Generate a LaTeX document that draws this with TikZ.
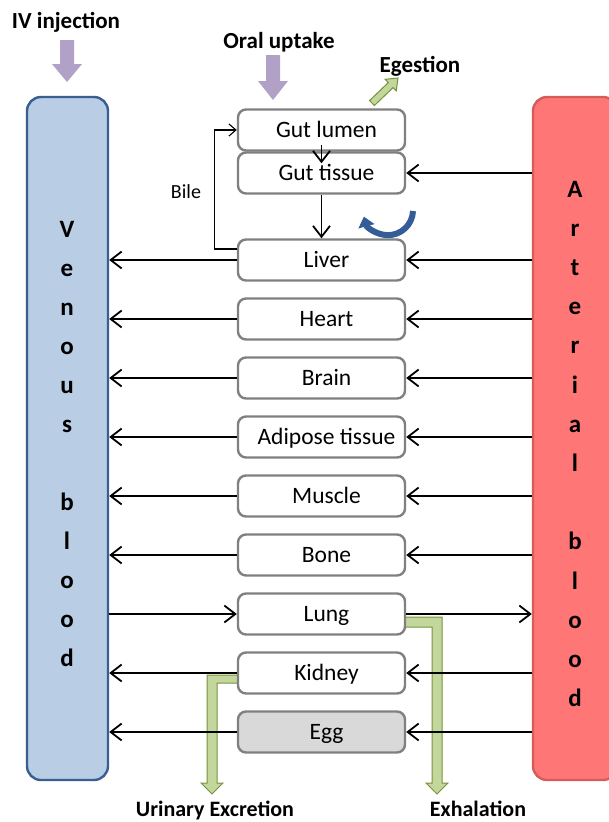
\documentclass[tikz,border=0pt]{standalone}
\usepackage{fontspec}
\setmainfont{Carlito}
\usepackage{xcolor}
\usetikzlibrary{arrows.meta}

\definecolor{venfill}{RGB}{185,205,228}
\definecolor{venline}{RGB}{56,95,144}
\definecolor{artfill}{RGB}{255,118,118}
\definecolor{artline}{RGB}{214,92,92}
\definecolor{organline}{RGB}{128,128,128}
\definecolor{eggfill}{RGB}{217,217,217}
\definecolor{intake}{RGB}{178,161,199}
\definecolor{outfill}{RGB}{195,214,155}
\definecolor{outline}{RGB}{119,147,60}
\definecolor{cycle}{RGB}{52,92,150}

\tikzset{
	organ/.style={draw=organline, line width=2.4pt, rounded corners=8pt, fill=white,
		minimum width=167pt, minimum height=41pt, inner sep=0pt,
		text height=15pt, text depth=0pt, font=\fontsize{23.5}{23.5}\selectfont},
	pool/.style={line width=2.4pt, rounded corners=14pt, inner sep=0pt},
	blood/.style={anchor=base, inner sep=0pt, font=\fontsize{25}{25}\selectfont\bfseries},
	route/.style={anchor=base, inner sep=0pt, font=\fontsize{23}{23}\selectfont\bfseries},
	flow/.style={line width=1.8pt, -{Straight Barb[length=11pt,width=17pt]}},
	bile/.style={line width=1.1pt, -{Straight Barb[length=7pt,width=12pt]}},
	blockout/.style={fill=outfill, draw=outline, line width=1pt, line join=miter},
	blockin/.style={fill=intake, draw=none},
}

\begin{document}
\begin{tikzpicture}[x=1pt,y=-1pt]
		\useasboundingbox (0,0) rectangle (608,822);
		
		% blood pools
		\node[pool, draw=venline, fill=venfill, minimum width=81pt, minimum height=683pt] (ven) at (67.5,438.5) {};
		\node[pool, draw=artline, fill=artfill, minimum width=84pt, minimum height=683pt] (art) at (575,438.5) {};
		
		\foreach \ch [count=\k from 0] in {V,e,n,o,u,s,{},b,l,o,o,d}
		\node[blood] (v\k) at (67,237+39*\k) {\ch};
		\foreach \ch [count=\k from 0] in {A,r,t,e,r,i,a,l,{},b,l,o,o,d}
		\node[blood] (a\k) at (575,197+39.2*\k) {\ch};
		
		% green outputs, under the black lines
		\draw[blockout] (405,617) -- (442,617) -- (442,783) -- (448,783) -- (437,794) -- (426,783) -- (432,783) -- (432,627) -- (405,627) -- cycle;
		\draw[blockout] (238,675) -- (207,675) -- (207,783) -- (201,783) -- (212,794) -- (223,783) -- (217,783) -- (217,683) -- (238,683) -- cycle;
		\draw[blockout] (374.4,105.5) -- (393.1,87.6) -- (396.2,90.9) -- (398,78) -- (385.2,79.3) -- (388.3,82.6) -- (369.6,100.5) -- cycle;
		
		% organs
		\node[organ] (lumen) at (321.5,130) {\hspace*{10pt}Gut lumen};
		\node[organ] (tissue) at (321.5,173) {\hspace*{10pt}Gut tissue};
		\foreach \id/\name/\y in {liver/Liver/260, heart/Heart/319, brain/Brain/378, adipose/Adipose tissue/437,
			muscle/Muscle/496, bone/Bone/555, lung/Lung/614, kidney/Kidney/673}
		\node[organ] (\id) at (321.5,\y) {\hspace*{10pt}\name};
		\node[organ, fill=eggfill] (egg) at (321.5,732) {\hspace*{10pt}Egg};
		
		\foreach \id in {liver,heart,brain,adipose,muscle,bone,kidney,egg}
		{
			\draw[flow] (\id.west) -- (ven.east |- \id.west);
			\draw[flow] (art.west |- \id.east) -- (\id.east);
		}
		\draw[flow] (art.west |- tissue.east) -- (tissue.east);
		\draw[flow] (ven.east |- lung.west) -- (lung.west);
		\draw[flow] (lung.east) -- (art.west |- lung.east);
		
		\draw[flow] ([yshift=7pt]lumen.south) -- ([yshift=-12pt]tissue.north);
		\draw[flow] (tissue.south) -- (liver.north);
		
		% bile back to the gut
		\draw[bile] ([yshift=11pt]liver.west) -- ++(-22,0) |- (lumen.west);
		\node[inner sep=0pt, font=\fontsize{20}{20}\selectfont] (bilelabel) at (186,192) {Bile};
		
		% metabolism in the liver
		\draw[cycle, line width=6pt, -{Triangle[width=16pt,length=10pt]}] (413,211) arc (2:165:25);
		
		% intake arrows
		\fill[blockin] (60,40) -- (74,40) -- (74,64) -- (82,64) -- (67,82) -- (52,64) -- (60,64) -- cycle;
		\fill[blockin] (266,55) -- (280,55) -- (280,81) -- (288,81) -- (273,100) -- (258,81) -- (266,81) -- cycle;
		
		\node[route] (iv) at (66,28) {IV injection};
		\node[route] (oral) at (279,48) {Oral uptake};
		\node[route] (egest) at (420,72) {Egestion};
		\node[route, font=\fontsize{22}{22}\selectfont\bfseries] (urine) at (215,816) {Urinary Excretion};
		\node[route, font=\fontsize{22}{22}\selectfont\bfseries] (exhale) at (478,816) {Exhalation};
		
	\end{tikzpicture}
\end{document}
